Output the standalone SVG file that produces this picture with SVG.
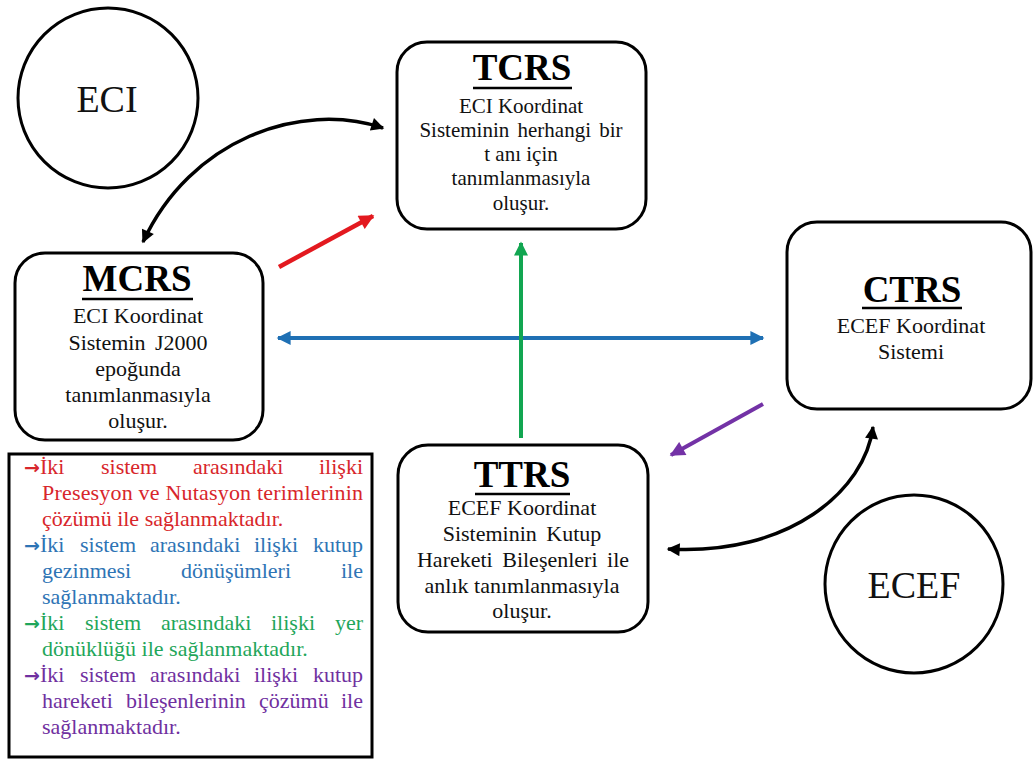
<svg xmlns="http://www.w3.org/2000/svg" width="1033" height="760" viewBox="0 0 1033 760">
<style>
.box{fill:#fff;stroke:#000;stroke-width:3}
.circ{fill:#fff;stroke:#000;stroke-width:3}
.title{font-family:"Liberation Serif","Times New Roman",serif;font-weight:bold;font-size:37px;text-anchor:middle;fill:#000}
.body{font-family:"Liberation Serif","Times New Roman",serif;font-size:22px;text-anchor:middle;fill:#111}
.big{font-family:"Liberation Serif","Times New Roman",serif;font-size:38px;text-anchor:middle;fill:#111}
.ul{stroke:#000;stroke-width:2.5}
.lg{font-family:"Liberation Serif","Times New Roman",serif;font-size:22px}
.ar{font-family:"DejaVu Sans",sans-serif;font-weight:bold;font-size:19px}
.r{fill:#d8262b}.b{fill:#2e74b5}.g{fill:#1fa65a}.p{fill:#7030a0}
.e{text-anchor:end}
</style>
<defs>
<marker id="ak" viewBox="0 0 10 10" refX="9" refY="5" markerWidth="15" markerHeight="13" markerUnits="userSpaceOnUse" orient="auto-start-reverse"><path d="M0,0 L10,5 L0,10 z" fill="#000"/></marker>
<marker id="ar" viewBox="0 0 10 10" refX="9" refY="5" markerWidth="17" markerHeight="15" markerUnits="userSpaceOnUse" orient="auto-start-reverse"><path d="M0,0 L10,5 L0,10 z" fill="#e3191f"/></marker>
<marker id="ab" viewBox="0 0 10 10" refX="9" refY="5" markerWidth="16" markerHeight="14" markerUnits="userSpaceOnUse" orient="auto-start-reverse"><path d="M0,0 L10,5 L0,10 z" fill="#1f70b4"/></marker>
<marker id="ag" viewBox="0 0 10 10" refX="9" refY="5" markerWidth="16" markerHeight="14" markerUnits="userSpaceOnUse" orient="auto-start-reverse"><path d="M0,0 L10,5 L0,10 z" fill="#12a651"/></marker>
<marker id="ap" viewBox="0 0 10 10" refX="9" refY="5" markerWidth="17" markerHeight="15" markerUnits="userSpaceOnUse" orient="auto-start-reverse"><path d="M0,0 L10,5 L0,10 z" fill="#7332a6"/></marker>
</defs>
<rect width="1033" height="760" fill="#fff"/>

<g id="connectors" fill="none">
<path d="M143,242 C190,140 300,100 383,128" stroke="#000" stroke-width="3.5" marker-start="url(#ak)" marker-end="url(#ak)"/>
<path d="M873,427 C865,490 790,556 668,549" stroke="#000" stroke-width="3.5" marker-start="url(#ak)" marker-end="url(#ak)"/>
<line x1="279" y1="267" x2="373" y2="216" stroke="#e3191f" stroke-width="4.5" marker-end="url(#ar)"/>
<line x1="278" y1="338" x2="763" y2="338" stroke="#1f70b4" stroke-width="4" marker-start="url(#ab)" marker-end="url(#ab)"/>
<line x1="521" y1="438" x2="521" y2="243" stroke="#12a651" stroke-width="4" marker-end="url(#ag)"/>
<line x1="763" y1="404" x2="671" y2="455" stroke="#7332a6" stroke-width="4" marker-end="url(#ap)"/>
</g>

<g id="eci">
<circle class="circ" cx="108" cy="98" r="90"/>
<text class="big" x="107" y="112">ECI</text>
</g>

<g id="ecef">
<circle class="circ" cx="914" cy="584" r="89"/>
<text class="big" x="914" y="598">ECEF</text>
</g>

<g id="tcrs">
<rect class="box" x="397" y="42" width="249" height="187" rx="30"/>
<text class="title" x="522" y="80">TCRS</text>
<line class="ul" x1="473" y1="88" x2="572" y2="88"/>
<text class="body" style="font-size:21px" x="521" y="113">ECI Koordinat</text>
<text class="body" style="font-size:21px;word-spacing:3px" x="521" y="137">Sisteminin herhangi bir</text>
<text class="body" style="font-size:21px" x="521" y="161">t anı için</text>
<text class="body" style="font-size:21px" x="521" y="185">tanımlanmasıyla</text>
<text class="body" style="font-size:21px" x="521" y="210">oluşur.</text>
</g>

<g id="mcrs">
<rect class="box" x="15" y="253" width="248" height="187" rx="30"/>
<text class="title" x="137" y="291">MCRS</text>
<line class="ul" x1="82" y1="299" x2="193" y2="299"/>
<text class="body" x="138" y="323">ECI Koordinat</text>
<text class="body" style="word-spacing:4px" x="138" y="350">Sistemin J2000</text>
<text class="body" x="138" y="376">epoğunda</text>
<text class="body" x="138" y="402">tanımlanmasıyla</text>
<text class="body" x="138" y="428">oluşur.</text>
</g>

<g id="ctrs">
<rect class="box" x="787" y="222" width="244" height="187" rx="30"/>
<text class="title" x="912" y="302">CTRS</text>
<line class="ul" x1="862" y1="308" x2="962" y2="308"/>
<text class="body" x="911" y="333">ECEF Koordinat</text>
<text class="body" x="911" y="359">Sistemi</text>
</g>

<g id="ttrs">
<rect class="box" x="398" y="445" width="250" height="187" rx="30"/>
<text class="title" x="522" y="487">TTRS</text>
<line class="ul" x1="475" y1="494" x2="570" y2="494"/>
<text class="body" x="522" y="515">ECEF Koordinat</text>
<text class="body" style="word-spacing:4px" x="522" y="541">Sisteminin Kutup</text>
<text class="body" style="word-spacing:4px" x="523" y="567">Hareketi Bileşenleri ile</text>
<text class="body" x="522" y="593">anlık tanımlanmasıyla</text>
<text class="body" x="522" y="618">oluşur.</text>
</g>

<g id="legend">
<rect x="9" y="454" width="363" height="303" fill="#fff" stroke="#000" stroke-width="3"/>
<g class="lg r">
<text x="24" y="474"><tspan class="ar">→</tspan>İki</text><text x="101" y="474">sistem</text><text x="193" y="474">arasındaki</text><text class="e" x="363" y="474">ilişki</text>
<text x="42" y="500" textLength="321" lengthAdjust="spacing">Presesyon ve Nutasyon terimlerinin</text>
<text x="42" y="526">çözümü ile sağlanmaktadır.</text>
</g>
<g class="lg b">
<text x="24" y="552"><tspan class="ar">→</tspan>İki</text><text x="80" y="552">sistem</text><text x="150" y="552">arasındaki</text><text x="254" y="552">ilişki</text><text class="e" x="363" y="552">kutup</text>
<text x="42" y="578">gezinmesi</text><text x="181" y="578">dönüşümleri</text><text class="e" x="363" y="578">ile</text>
<text x="42" y="604">sağlanmaktadır.</text>
</g>
<g class="lg g">
<text x="24" y="630"><tspan class="ar">→</tspan>İki</text><text x="85" y="630">sistem</text><text x="161" y="630">arasındaki</text><text x="271" y="630">ilişki</text><text class="e" x="363" y="630">yer</text>
<text x="42" y="656">dönüklüğü ile sağlanmaktadır.</text>
</g>
<g class="lg p">
<text x="24" y="682"><tspan class="ar">→</tspan>İki</text><text x="80" y="682">sistem</text><text x="150" y="682">arasındaki</text><text x="254" y="682">ilişki</text><text class="e" x="363" y="682">kutup</text>
<text x="42" y="708">hareketi</text><text x="126" y="708">bileşenlerinin</text><text x="259" y="708">çözümü</text><text class="e" x="363" y="708">ile</text>
<text x="42" y="734">sağlanmaktadır.</text>
</g>
</g>
</svg>
